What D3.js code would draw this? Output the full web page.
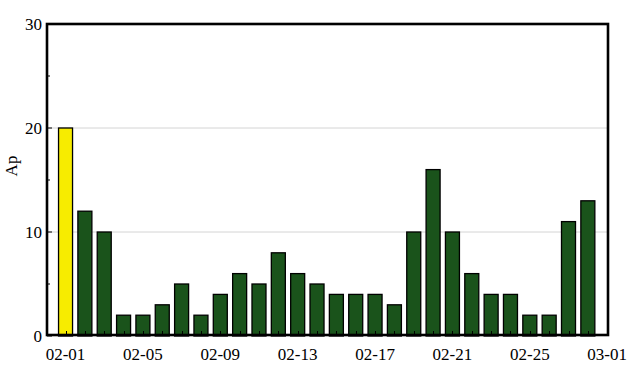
<!DOCTYPE html>
<html><head><meta charset="utf-8">
<script src="https://cdn.jsdelivr.net/npm/d3@7"></script>
<style>body{margin:0;background:#fff}svg{display:block}</style>
</head><body>
<script>
const dates = ["02-01","02-02","02-03","02-04","02-05","02-06","02-07","02-08","02-09","02-10","02-11","02-12","02-13","02-14","02-15","02-16","02-17","02-18","02-19","02-20","02-21","02-22","02-23","02-24","02-25","02-26","02-27","02-28"];
const apValues = [20,12,10,2,2,3,5,2,4,6,5,8,6,5,4,4,4,3,10,16,10,6,4,4,2,2,11,13];
const highlight = [true,false,false,false,false,false,false,false,false,false,false,false,false,false,false,false,false,false,false,false,false,false,false,false,false,false,false,false];
const xTickLabels = ["02-01","02-05","02-09","02-13","02-17","02-21","02-25","03-01"];
const yTicks = [0,10,20,30];
const yMinor = [5,15,25];

const W=641,H=381;
const L=47,R=608,T=24,B=336;
const parse = s => new Date(2021, +s.slice(0,2)-1, +s.slice(3));
const svg = d3.select("body").append("svg").attr("width",W).attr("height",H);
const x = d3.scaleTime().domain([new Date(2021,0,31,1), new Date(2021,2,1,1)]).range([L,R]);
const y = d3.scaleLinear().domain([0,30]).range([B,T]);
const font = "Liberation Serif";

// grid
svg.append("g").selectAll("line").data([10,20]).join("line")
  .attr("x1",L).attr("x2",R).attr("y1",d=>y(d)).attr("y2",d=>y(d))
  .attr("stroke","#d4d4d4").attr("stroke-width",1);

const bw = 14;
svg.append("g").selectAll("rect").data(apValues).join("rect")
  .attr("x",(d,i)=>x(parse(dates[i]))-bw/2)
  .attr("y",d=>y(d))
  .attr("width",bw)
  .attr("height",d=>y(0)-y(d))
  .attr("fill",(d,i)=>highlight[i]?"#f7ec00":"#1a531b")
  .attr("stroke","#000").attr("stroke-width",1.3);

// x ticks inward
svg.append("g").selectAll("line").data(dates).join("line")
  .attr("x1",d=>Math.round(x(parse(d)))+0.5).attr("x2",d=>Math.round(x(parse(d)))+0.5)
  .attr("y1",B).attr("y2",B-5).attr("stroke","#000").attr("stroke-width",1);

// y ticks
svg.append("g").selectAll("line").data(yTicks).join("line")
  .attr("x1",L).attr("x2",L+5).attr("y1",d=>y(d)).attr("y2",d=>y(d)).attr("stroke","#000");
svg.append("g").selectAll("line").data(yMinor).join("line")
  .attr("x1",L).attr("x2",L+3).attr("y1",d=>y(d)).attr("y2",d=>y(d)).attr("stroke","#000");

// frame
svg.append("rect").attr("x",L).attr("y",T).attr("width",R-L).attr("height",B-T-1)
  .attr("fill","none").attr("stroke","#000").attr("stroke-width",2.6);

// y labels
svg.append("g").selectAll("text").data(yTicks).join("text")
  .attr("x",42).attr("y",d=>y(d)).attr("dy","0.33em")
  .attr("text-anchor","end").attr("font-family",font).attr("font-size",17).attr("fill","#000")
  .text(d=>d);

// x labels
svg.append("g").selectAll("text").data(xTickLabels).join("text")
  .attr("x",d=>{const m=+d.slice(0,2), dd=+d.slice(3); return x(new Date(2021,m-1,dd));})
  .attr("y",360).attr("text-anchor","middle").attr("font-family",font).attr("font-size",17).attr("fill","#000")
  .text(d=>d);

svg.append("text").attr("transform","translate(17,166) rotate(-90)")
  .attr("text-anchor","middle").attr("font-family",font).attr("font-size",17).text("Ap");
</script>
</body></html>
